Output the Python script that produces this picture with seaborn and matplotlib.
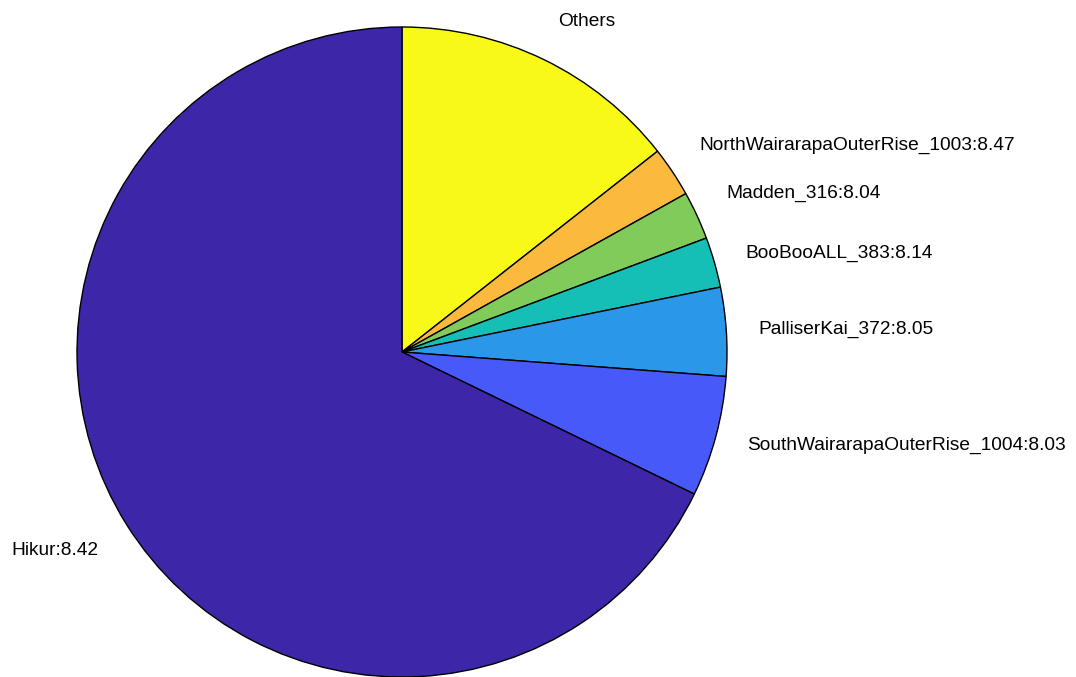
import numpy as np
import matplotlib
matplotlib.use("Agg")
import matplotlib.pyplot as plt
import seaborn as sns

# slice data, clockwise from 12 o'clock
faults = ["Others", "NorthWairarapaOuterRise_1003", "Madden_316", "BooBooALL_383",
          "PalliserKai_372", "SouthWairarapaOuterRise_1004", "Hikur"]
magnitudes = [None, 8.47, 8.04, 8.14, 8.05, 8.03, 8.42]
shares = [14.4, 2.5, 2.4, 2.5, 4.4, 6.0, 67.8]
slice_colors = ["#F8F916", "#FBBA3E", "#80CB59", "#16BFB6", "#2A97E9", "#4859F9", "#3D27A8"]

labels = [f if m is None else f"{f}:{m:.2f}" for f, m in zip(faults, magnitudes)]

sns.set_theme(style="white")
plt.rcParams['font.family'] = ['Liberation Sans', 'DejaVu Sans']

fig = plt.figure(figsize=(10.76, 6.77), dpi=100)
ax = fig.add_axes([77 / 1076, 0.0, 650 / 1076, 650 / 677])

wedges, texts = ax.pie(shares, labels=labels, colors=slice_colors, startangle=90,
                       counterclock=False, labeldistance=1.1,
                       wedgeprops=dict(edgecolor="black", linewidth=1.0),
                       textprops=dict(fontsize=13.8, color="black"))

ax.set_xlim(-1, 1)
ax.set_ylim(-1, 1)
ax.set_aspect("equal")
ax.axis("off")

# vertical alignment like the original: upper labels sit above, lower-left below
for t in texts:
    t.set_clip_on(False)
    x, y = t.get_position()
    if y > 0.4:
        t.set_verticalalignment("bottom")
    elif y < -0.4:
        t.set_verticalalignment("top")

fig.savefig("out.png", dpi=100)
